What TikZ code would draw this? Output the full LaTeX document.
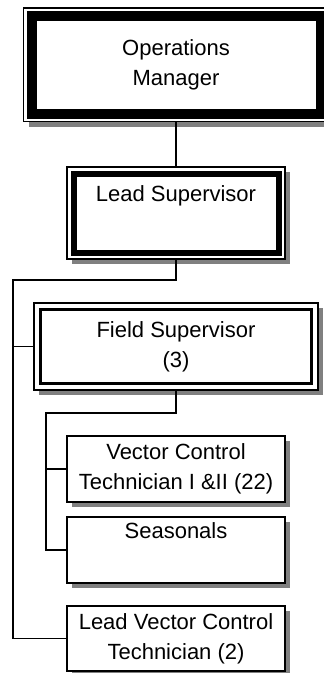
\documentclass[tikz,border=0pt]{standalone}
\usepackage{fontspec}
\setmainfont{Liberation Sans}
\usepackage{tikz}
\usetikzlibrary{shadows}

\begin{document}
\begin{tikzpicture}[
		x=1pt, y=-1pt,
		font=\fontsize{22}{30}\selectfont,
		post/.style={draw, fill=white, line width=1.5pt, outer sep=0pt, inner sep=0pt, align=center,
			drop shadow={shadow xshift=5pt, shadow yshift=-5pt, fill=gray, opacity=1}},
		banded/.style 2 args={post, path picture={
			\draw[line width=#1] ([shift={(#2,-#2)}]path picture bounding box.north west)
				rectangle ([shift={(-#2,#2)}]path picture bounding box.south east);}},
		link/.style={draw, line width=1.2pt}
	]
		\useasboundingbox (0,0) rectangle (324,673);
		\clip (0,0) rectangle (324,673);
		
		% Management
		\node[banded={10pt}{8pt}, minimum width=305, minimum height=113.5] (ops) at (176,64.75) {Operations\\Manager};
		\node[banded={6pt}{6.5pt}, minimum width=218, minimum height=92] (lead) at (176,213) {Lead Supervisor\\ \strut};
		
		% Field staff
		\node[banded={3.5pt}{6.5pt}, minimum width=284, minimum height=87] (field) at (176,346.5) {Field Supervisor\\(3)};
		\node[post, minimum width=218, minimum height=66] (vct) at (176,469) {Vector Control\\Technician I \&II (22)};
		\node[post, minimum width=218, minimum height=66] (seas) at (176,550) {Seasonals\\ \strut};
		\node[post, minimum width=218, minimum height=65] (lvct) at (176,638.5) {Lead Vector Control\\Technician (2)};
		
		% Bus points
		\coordinate (busA) at (13,280);
		\coordinate (busB) at (46,413);
		
		% Lines
		\draw[link] (ops.south) -- (lead.north);
		\draw[link] (lead.south) |- (busA) |- (lvct.west);
		\draw[link] (busA |- field.west) -- (field.west);
		\draw[link] (field.south) |- (busB) |- (seas.west);
		\draw[link] (busB |- vct.west) -- (vct.west);
	\end{tikzpicture}
\end{document}
